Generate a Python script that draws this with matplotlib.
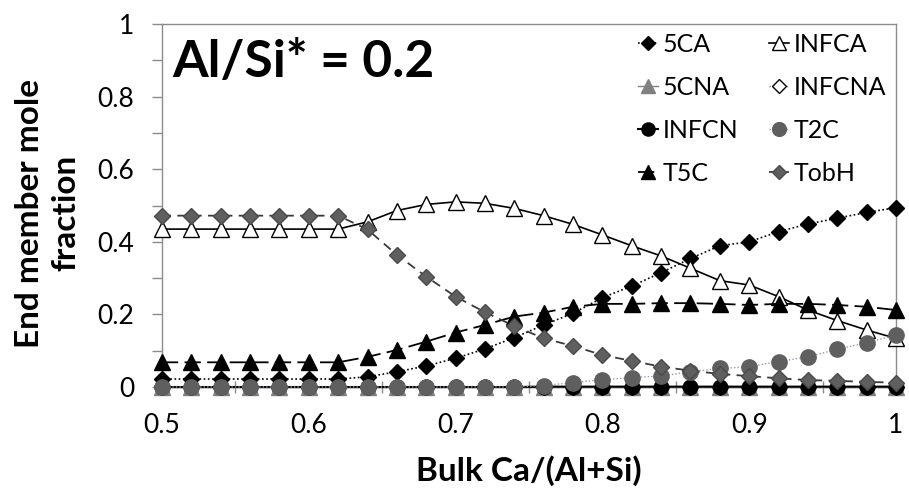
import matplotlib
matplotlib.use("Agg")
import matplotlib.pyplot as plt

plt.rcParams['font.family'] = ['Lato', 'DejaVu Sans']

# ---- data ----
x = [0.50, 0.52, 0.54, 0.56, 0.58, 0.60, 0.62, 0.64, 0.66, 0.68, 0.70, 0.72, 0.74,
     0.76, 0.78, 0.80, 0.82, 0.84, 0.86, 0.88, 0.90, 0.92, 0.94, 0.96, 0.98, 1.00]

ca5 = [0.022, 0.022, 0.022, 0.022, 0.022, 0.022, 0.022, 0.028, 0.042, 0.058, 0.079, 0.105, 0.136,
       0.171, 0.203, 0.246, 0.278, 0.315, 0.354, 0.389, 0.400, 0.428, 0.449, 0.465, 0.481, 0.494]
infca = [0.435, 0.435, 0.435, 0.435, 0.435, 0.435, 0.435, 0.455, 0.486, 0.503, 0.510, 0.506, 0.492,
         0.472, 0.448, 0.419, 0.389, 0.361, 0.327, 0.293, 0.281, 0.249, 0.212, 0.183, 0.157, 0.134]
cna5 = [0.0, 0.0, 0.0, 0.0, 0.0, 0.0, 0.0, 0.0, 0.0, 0.0, 0.0, 0.0, 0.0,
        0.0, 0.0, 0.0, 0.0, 0.0, 0.0, 0.0, 0.0, 0.0, 0.0, 0.0, 0.0, 0.0]
infcna = [0.0, 0.0, 0.0, 0.0, 0.0, 0.0, 0.0, 0.0, 0.0, 0.0, 0.0, 0.0, 0.0,
          0.0, 0.0, 0.0, 0.0, 0.0, 0.0, 0.0, 0.0, 0.0, 0.0, 0.0, 0.0, 0.0]
infcn = [0.0, 0.0, 0.0, 0.0, 0.0, 0.0, 0.0, 0.0, 0.0, 0.0, 0.0, 0.0, 0.0,
         0.001, 0.001, 0.001, 0.001, 0.001, 0.001, 0.001, 0.001, 0.001, 0.001, 0.001, 0.001, 0.001]
t2c = [0.0, 0.0, 0.0, 0.0, 0.0, 0.0, 0.0, 0.0, 0.0, 0.0, 0.0, 0.0, 0.0,
       0.004, 0.012, 0.020, 0.026, 0.030, 0.042, 0.051, 0.056, 0.070, 0.083, 0.104, 0.122, 0.143]
t5c = [0.068, 0.068, 0.068, 0.068, 0.068, 0.068, 0.068, 0.083, 0.102, 0.125, 0.150, 0.171, 0.194,
       0.205, 0.221, 0.229, 0.229, 0.231, 0.231, 0.229, 0.226, 0.229, 0.229, 0.226, 0.221, 0.212]
tobh = [0.472, 0.472, 0.472, 0.472, 0.472, 0.472, 0.472, 0.434, 0.364, 0.304, 0.249, 0.206, 0.168,
        0.134, 0.113, 0.088, 0.072, 0.056, 0.045, 0.036, 0.030, 0.024, 0.019, 0.017, 0.014, 0.012]

x_ticks = [0.5, 0.6, 0.7, 0.8, 0.9, 1.0]
x_ticklabels = ["0.5", "0.6", "0.7", "0.8", "0.9", "1"]
y_ticks = [0, 0.2, 0.4, 0.6, 0.8, 1.0]
y_ticklabels = ["0", "0.2", "0.4", "0.6", "0.8", "1"]

W, H = 909, 488
fig = plt.figure(figsize=(W / 100, H / 100), dpi=100)
ax = fig.add_axes([162 / W, 1 - 387 / H, (896 - 162) / W, (387 - 24) / H])

GRAY = '#5f5f5f'
styles = {
    '5CA':    dict(y=ca5,    color='black', ls=(0, (1, 1.5)), lw=1.2, marker='D', ms=7.8, mfc='black', mec='black'),
    'INFCA':  dict(y=infca,  color='black', ls='-', lw=1.2, marker='^', ms=11.5, mfc='white', mec='black'),
    '5CNA':   dict(y=cna5,   color='#808080', ls='-', lw=1.0, marker='^', ms=11.5, mfc='#808080', mec='#808080'),
    'INFCNA': dict(y=infcna, color='#808080', ls=(0, (1, 1.5)), lw=1.0, marker='D', ms=7.8, mfc='white', mec='black'),
    'INFCN':  dict(y=infcn,  color='black', ls='-', lw=1.5, marker='o', ms=10.5, mfc='black', mec='black'),
    'T2C':    dict(y=t2c,    color='#9a9aa8', ls=(0, (1, 1.5)), lw=1.0, marker='o', ms=11, mfc=GRAY, mec=GRAY),
    'T5C':    dict(y=t5c,    color='black', ls=(0, (9, 3.5)), lw=1.3, marker='^', ms=11.5, mfc='black', mec='black'),
    'TobH':   dict(y=tobh,   color='#3a3a3a', ls=(0, (5, 3.5)), lw=1.3, marker='D', ms=7.8, mfc=GRAY, mec='#4a4a4a'),
}

handles = {}
for i, (name, s) in enumerate(styles.items()):
    ln, = ax.plot(x, s['y'], color=s['color'], linestyle=s['ls'], linewidth=s['lw'],
                  marker=s['marker'], markersize=s['ms'], markerfacecolor=s['mfc'],
                  markeredgecolor=s['mec'], markeredgewidth=1.0, clip_on=False, zorder=3 + i,
                  label=name)
    handles[name] = ln

ax.set_xlim(0.5, 1.0)
ax.set_ylim(0, 1.0)
ax.set_xticks(x_ticks)
ax.set_xticklabels(x_ticklabels)
ax.set_xticks([0.55, 0.65, 0.75, 0.85, 0.95], minor=True)
ax.set_yticks(y_ticks)
ax.set_yticklabels(y_ticklabels)
ax.set_yticks([0.1, 0.3, 0.5, 0.7, 0.9], minor=True)

for sp in ax.spines.values():
    sp.set_color('#8c8c8c')
    sp.set_linewidth(1.0)

ax.tick_params(axis='y', which='both', direction='out', length=7, width=1, color='#8c8c8c',
               labelsize=19, pad=13)
ax.tick_params(axis='x', which='both', direction='inout', length=8, width=1, color='#8c8c8c',
               labelsize=19, pad=15)

order = ['5CA', '5CNA', 'INFCN', 'T5C', 'INFCA', 'INFCNA', 'T2C', 'TobH']
leg = ax.legend([handles[k] for k in order], order, ncol=2, loc='upper left',
                bbox_to_anchor=((638 - 162) / 734, (387 - 33) / 363), frameon=False,
                fontsize=18, handlelength=0.8, handletextpad=0.2, columnspacing=1.2,
                labelspacing=0.8, borderpad=0, borderaxespad=0, markerscale=0.9)

fig.text(172 / W, 1 - 77 / H, "Al/Si* = 0.2", fontsize=37, fontweight='bold',
         ha='left', va='baseline')
fig.text(529 / W, 1 - 471 / H, "Bulk Ca/(Al+Si)", fontsize=24, fontweight='bold',
         ha='center', va='center')
fig.text(48 / W, 1 - 213 / H, "End member mole\nfraction", fontsize=24, fontweight='bold',
         ha='center', va='center', rotation=90, linespacing=1.3)

fig.savefig("out.png", dpi=100)
